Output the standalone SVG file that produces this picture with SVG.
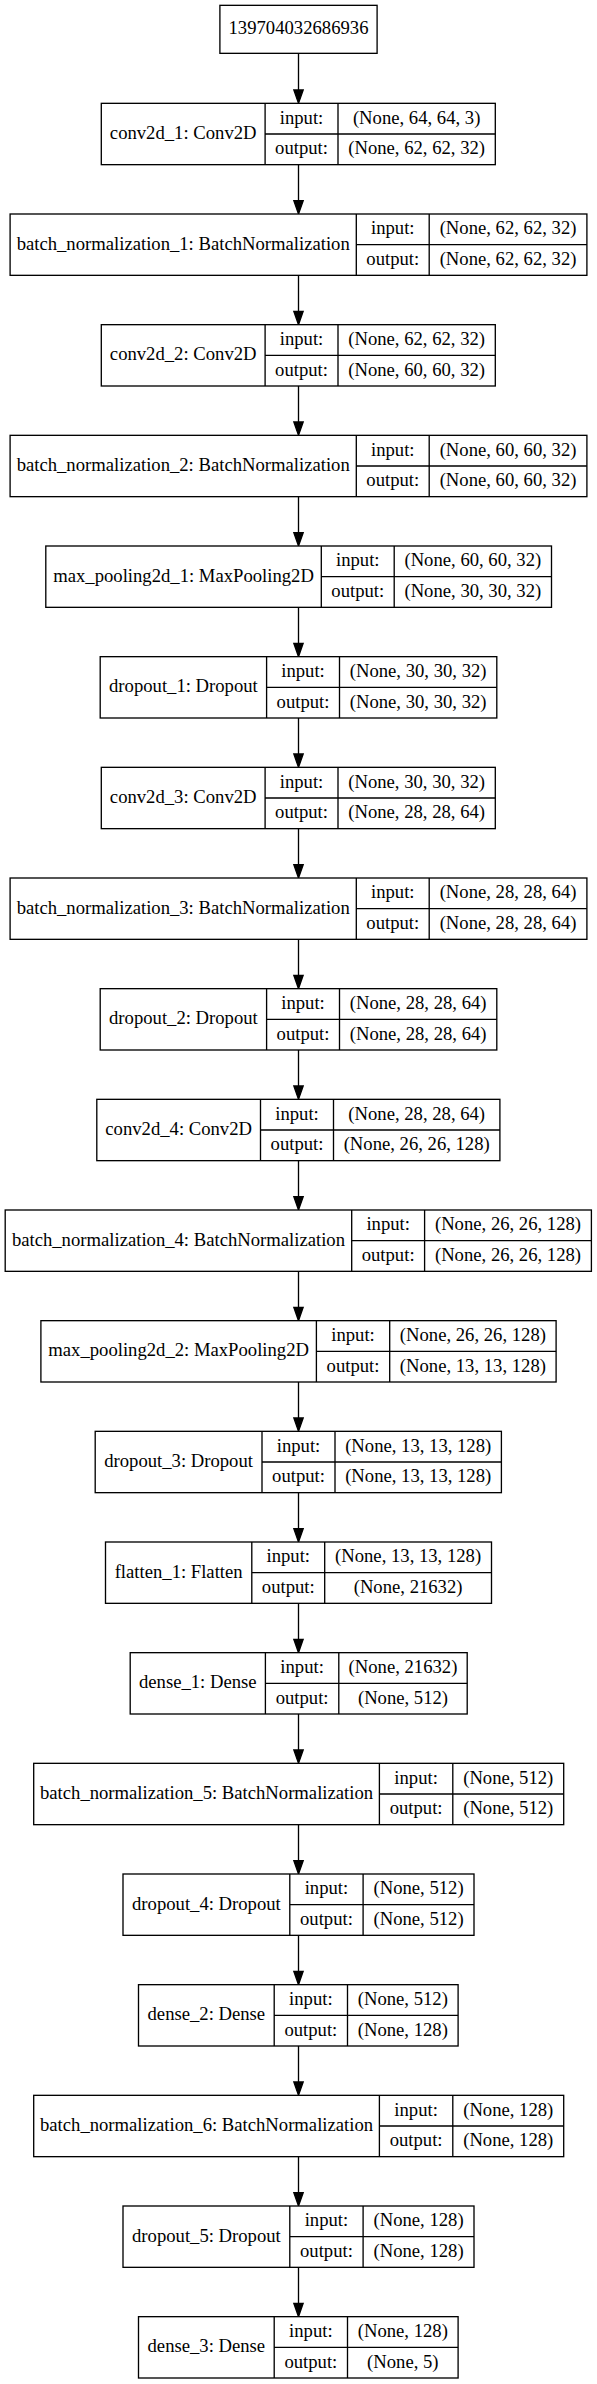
<svg xmlns="http://www.w3.org/2000/svg" width="597" height="2384" viewBox="0 0 597 2384">
<style>
.b{fill:#fff;stroke:#000;stroke-width:1.33}
.l{stroke:#000;stroke-width:1.33;fill:none}
text{font-family:"Liberation Serif","Times New Roman",serif;font-size:18.67px;fill:#000;text-anchor:middle}
</style>
<defs>
<marker id="ah" markerUnits="userSpaceOnUse" markerWidth="14" markerHeight="10" refX="0" refY="4.67" orient="auto" overflow="visible">
<path d="M0,0 L13.33,4.67 L0,9.33 z" fill="#000" stroke="#000" stroke-width="1.33"/>
</marker>
</defs>
<rect width="597" height="2384" fill="#fff"/>
<g id="connectors" class="l" marker-end="url(#ah)">
<line x1="298.5" y1="53.33" x2="298.5" y2="90"/>
<line x1="298.5" y1="164.67" x2="298.5" y2="200.67"/>
<line x1="298.5" y1="275.33" x2="298.5" y2="311.33"/>
<line x1="298.5" y1="386" x2="298.5" y2="422"/>
<line x1="298.5" y1="496.67" x2="298.5" y2="532.67"/>
<line x1="298.5" y1="607.33" x2="298.5" y2="643.33"/>
<line x1="298.5" y1="718" x2="298.5" y2="754"/>
<line x1="298.5" y1="828.67" x2="298.5" y2="864.67"/>
<line x1="298.5" y1="939.33" x2="298.5" y2="975.33"/>
<line x1="298.5" y1="1050" x2="298.5" y2="1086"/>
<line x1="298.5" y1="1160.67" x2="298.5" y2="1196.67"/>
<line x1="298.5" y1="1271.33" x2="298.5" y2="1307.33"/>
<line x1="298.5" y1="1382" x2="298.5" y2="1418"/>
<line x1="298.5" y1="1492.67" x2="298.5" y2="1528.67"/>
<line x1="298.5" y1="1603.33" x2="298.5" y2="1639.33"/>
<line x1="298.5" y1="1714" x2="298.5" y2="1750"/>
<line x1="298.5" y1="1824.67" x2="298.5" y2="1860.67"/>
<line x1="298.5" y1="1935.33" x2="298.5" y2="1971.33"/>
<line x1="298.5" y1="2046" x2="298.5" y2="2082"/>
<line x1="298.5" y1="2156.67" x2="298.5" y2="2192.67"/>
<line x1="298.5" y1="2267.33" x2="298.5" y2="2303.33"/>
</g>
<g id="input">
<rect class="b" x="219.9" y="5.33" width="157.2" height="48"/>
<text x="298.5" y="34.3">139704032686936</text>
</g>
<g id="conv2d_1" transform="translate(0,103.33)">
<rect class="b" x="101.3" y="0" width="394" height="61.33"/>
<path class="l" d="M265.1,0V61.33M338,0V61.33M265.1,30.67H495.3"/>
<text x="183.2" y="35.7">conv2d_1: Conv2D</text>
<text x="301.55" y="20.3">input:</text><text x="301.55" y="51">output:</text>
<text x="416.65" y="20.3">(None, 64, 64, 3)</text><text x="416.65" y="51">(None, 62, 62, 32)</text>
</g>
<g id="batch_normalization_1" transform="translate(0,214)">
<rect class="b" x="10.1" y="0" width="576.8" height="61.33"/>
<path class="l" d="M356.3,0V61.33M429.2,0V61.33M356.3,30.67H586.9"/>
<text x="183.2" y="35.7">batch_normalization_1: BatchNormalization</text>
<text x="392.75" y="20.3">input:</text><text x="392.75" y="51">output:</text>
<text x="508.05" y="20.3">(None, 62, 62, 32)</text><text x="508.05" y="51">(None, 62, 62, 32)</text>
</g>
<g id="conv2d_2" transform="translate(0,324.67)">
<rect class="b" x="101.3" y="0" width="394" height="61.33"/>
<path class="l" d="M265.1,0V61.33M338,0V61.33M265.1,30.67H495.3"/>
<text x="183.2" y="35.7">conv2d_2: Conv2D</text>
<text x="301.55" y="20.3">input:</text><text x="301.55" y="51">output:</text>
<text x="416.65" y="20.3">(None, 62, 62, 32)</text><text x="416.65" y="51">(None, 60, 60, 32)</text>
</g>
<g id="batch_normalization_2" transform="translate(0,435.33)">
<rect class="b" x="10.1" y="0" width="576.8" height="61.33"/>
<path class="l" d="M356.3,0V61.33M429.2,0V61.33M356.3,30.67H586.9"/>
<text x="183.2" y="35.7">batch_normalization_2: BatchNormalization</text>
<text x="392.75" y="20.3">input:</text><text x="392.75" y="51">output:</text>
<text x="508.05" y="20.3">(None, 60, 60, 32)</text><text x="508.05" y="51">(None, 60, 60, 32)</text>
</g>
<g id="max_pooling2d_1" transform="translate(0,546)">
<rect class="b" x="45.8" y="0" width="505.7" height="61.33"/>
<path class="l" d="M321.3,0V61.33M394.2,0V61.33M321.3,30.67H551.5"/>
<text x="183.55" y="35.7">max_pooling2d_1: MaxPooling2D</text>
<text x="357.75" y="20.3">input:</text><text x="357.75" y="51">output:</text>
<text x="472.85" y="20.3">(None, 60, 60, 32)</text><text x="472.85" y="51">(None, 30, 30, 32)</text>
</g>
<g id="dropout_1" transform="translate(0,656.67)">
<rect class="b" x="100.2" y="0" width="396.6" height="61.33"/>
<path class="l" d="M266.6,0V61.33M339.5,0V61.33M266.6,30.67H496.8"/>
<text x="183.4" y="35.7">dropout_1: Dropout</text>
<text x="303.05" y="20.3">input:</text><text x="303.05" y="51">output:</text>
<text x="418.15" y="20.3">(None, 30, 30, 32)</text><text x="418.15" y="51">(None, 30, 30, 32)</text>
</g>
<g id="conv2d_3" transform="translate(0,767.33)">
<rect class="b" x="101.3" y="0" width="394" height="61.33"/>
<path class="l" d="M265.1,0V61.33M338,0V61.33M265.1,30.67H495.3"/>
<text x="183.2" y="35.7">conv2d_3: Conv2D</text>
<text x="301.55" y="20.3">input:</text><text x="301.55" y="51">output:</text>
<text x="416.65" y="20.3">(None, 30, 30, 32)</text><text x="416.65" y="51">(None, 28, 28, 64)</text>
</g>
<g id="batch_normalization_3" transform="translate(0,878)">
<rect class="b" x="10.1" y="0" width="576.8" height="61.33"/>
<path class="l" d="M356.3,0V61.33M429.2,0V61.33M356.3,30.67H586.9"/>
<text x="183.2" y="35.7">batch_normalization_3: BatchNormalization</text>
<text x="392.75" y="20.3">input:</text><text x="392.75" y="51">output:</text>
<text x="508.05" y="20.3">(None, 28, 28, 64)</text><text x="508.05" y="51">(None, 28, 28, 64)</text>
</g>
<g id="dropout_2" transform="translate(0,988.67)">
<rect class="b" x="100.2" y="0" width="396.6" height="61.33"/>
<path class="l" d="M266.6,0V61.33M339.5,0V61.33M266.6,30.67H496.8"/>
<text x="183.4" y="35.7">dropout_2: Dropout</text>
<text x="303.05" y="20.3">input:</text><text x="303.05" y="51">output:</text>
<text x="418.15" y="20.3">(None, 28, 28, 64)</text><text x="418.15" y="51">(None, 28, 28, 64)</text>
</g>
<g id="conv2d_4" transform="translate(0,1099.33)">
<rect class="b" x="96.8" y="0" width="403.1" height="61.33"/>
<path class="l" d="M260.5,0V61.33M333.5,0V61.33M260.5,30.67H499.9"/>
<text x="178.65" y="35.7">conv2d_4: Conv2D</text>
<text x="297" y="20.3">input:</text><text x="297" y="51">output:</text>
<text x="416.7" y="20.3">(None, 28, 28, 64)</text><text x="416.7" y="51">(None, 26, 26, 128)</text>
</g>
<g id="batch_normalization_4" transform="translate(0,1210)">
<rect class="b" x="5.2" y="0" width="586.2" height="61.33"/>
<path class="l" d="M351.7,0V61.33M424.6,0V61.33M351.7,30.67H591.4"/>
<text x="178.45" y="35.7">batch_normalization_4: BatchNormalization</text>
<text x="388.15" y="20.3">input:</text><text x="388.15" y="51">output:</text>
<text x="508" y="20.3">(None, 26, 26, 128)</text><text x="508" y="51">(None, 26, 26, 128)</text>
</g>
<g id="max_pooling2d_2" transform="translate(0,1320.67)">
<rect class="b" x="40.9" y="0" width="515.2" height="61.33"/>
<path class="l" d="M316.4,0V61.33M389.7,0V61.33M316.4,30.67H556.1"/>
<text x="178.65" y="35.7">max_pooling2d_2: MaxPooling2D</text>
<text x="353.05" y="20.3">input:</text><text x="353.05" y="51">output:</text>
<text x="472.9" y="20.3">(None, 26, 26, 128)</text><text x="472.9" y="51">(None, 13, 13, 128)</text>
</g>
<g id="dropout_3" transform="translate(0,1431.33)">
<rect class="b" x="95.2" y="0" width="406.2" height="61.33"/>
<path class="l" d="M262,0V61.33M335,0V61.33M262,30.67H501.4"/>
<text x="178.6" y="35.7">dropout_3: Dropout</text>
<text x="298.5" y="20.3">input:</text><text x="298.5" y="51">output:</text>
<text x="418.2" y="20.3">(None, 13, 13, 128)</text><text x="418.2" y="51">(None, 13, 13, 128)</text>
</g>
<g id="flatten_1" transform="translate(0,1542)">
<rect class="b" x="105.5" y="0" width="386" height="61.33"/>
<path class="l" d="M251.8,0V61.33M324.7,0V61.33M251.8,30.67H491.5"/>
<text x="178.65" y="35.7">flatten_1: Flatten</text>
<text x="288.25" y="20.3">input:</text><text x="288.25" y="51">output:</text>
<text x="408.1" y="20.3">(None, 13, 13, 128)</text><text x="408.1" y="51">(None, 21632)</text>
</g>
<g id="dense_1" transform="translate(0,1652.67)">
<rect class="b" x="130.2" y="0" width="337" height="61.33"/>
<path class="l" d="M265.4,0V61.33M338.8,0V61.33M265.4,30.67H467.2"/>
<text x="197.8" y="35.7">dense_1: Dense</text>
<text x="302.1" y="20.3">input:</text><text x="302.1" y="51">output:</text>
<text x="403" y="20.3">(None, 21632)</text><text x="403" y="51">(None, 512)</text>
</g>
<g id="batch_normalization_5" transform="translate(0,1763.33)">
<rect class="b" x="33.7" y="0" width="530" height="61.33"/>
<path class="l" d="M379.4,0V61.33M452.8,0V61.33M379.4,30.67H563.7"/>
<text x="206.55" y="35.7">batch_normalization_5: BatchNormalization</text>
<text x="416.1" y="20.3">input:</text><text x="416.1" y="51">output:</text>
<text x="508.25" y="20.3">(None, 512)</text><text x="508.25" y="51">(None, 512)</text>
</g>
<g id="dropout_4" transform="translate(0,1874)">
<rect class="b" x="123" y="0" width="351" height="61.33"/>
<path class="l" d="M289.8,0V61.33M363.1,0V61.33M289.8,30.67H474"/>
<text x="206.4" y="35.7">dropout_4: Dropout</text>
<text x="326.45" y="20.3">input:</text><text x="326.45" y="51">output:</text>
<text x="418.55" y="20.3">(None, 512)</text><text x="418.55" y="51">(None, 512)</text>
</g>
<g id="dense_2" transform="translate(0,1984.67)">
<rect class="b" x="138.5" y="0" width="319.6" height="61.33"/>
<path class="l" d="M274.2,0V61.33M347.5,0V61.33M274.2,30.67H458.1"/>
<text x="206.35" y="35.7">dense_2: Dense</text>
<text x="310.85" y="20.3">input:</text><text x="310.85" y="51">output:</text>
<text x="402.8" y="20.3">(None, 512)</text><text x="402.8" y="51">(None, 128)</text>
</g>
<g id="batch_normalization_6" transform="translate(0,2095.33)">
<rect class="b" x="33.7" y="0" width="530" height="61.33"/>
<path class="l" d="M379.4,0V61.33M452.8,0V61.33M379.4,30.67H563.7"/>
<text x="206.55" y="35.7">batch_normalization_6: BatchNormalization</text>
<text x="416.1" y="20.3">input:</text><text x="416.1" y="51">output:</text>
<text x="508.25" y="20.3">(None, 128)</text><text x="508.25" y="51">(None, 128)</text>
</g>
<g id="dropout_5" transform="translate(0,2206)">
<rect class="b" x="123" y="0" width="351" height="61.33"/>
<path class="l" d="M289.8,0V61.33M363.1,0V61.33M289.8,30.67H474"/>
<text x="206.4" y="35.7">dropout_5: Dropout</text>
<text x="326.45" y="20.3">input:</text><text x="326.45" y="51">output:</text>
<text x="418.55" y="20.3">(None, 128)</text><text x="418.55" y="51">(None, 128)</text>
</g>
<g id="dense_3" transform="translate(0,2316.67)">
<rect class="b" x="138.5" y="0" width="319.6" height="61.33"/>
<path class="l" d="M274.2,0V61.33M347.5,0V61.33M274.2,30.67H458.1"/>
<text x="206.35" y="35.7">dense_3: Dense</text>
<text x="310.85" y="20.3">input:</text><text x="310.85" y="51">output:</text>
<text x="402.8" y="20.3">(None, 128)</text><text x="402.8" y="51">(None, 5)</text>
</g>
</svg>
